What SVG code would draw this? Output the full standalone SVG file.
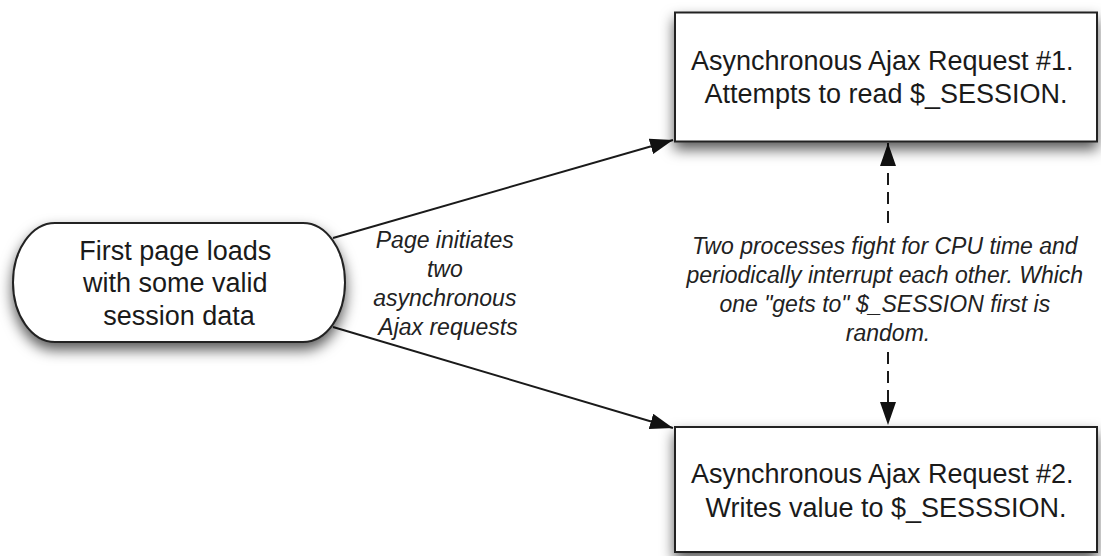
<svg xmlns="http://www.w3.org/2000/svg" width="1101" height="556" viewBox="0 0 1101 556">
  <style>
    .node { fill: #ffffff; stroke: #222222; stroke-width: 2; filter: url(#shadow); }
    .label { font-family: "Liberation Sans", Arial, sans-serif; font-size: 27px; fill: #1a1a1a; text-anchor: middle; }
    .note { font-family: "Liberation Sans", Arial, sans-serif; font-size: 23px; font-style: italic; fill: #222222; text-anchor: middle; }
    .edge { fill: none; stroke: #1a1a1a; stroke-width: 2; }
    .dashed { stroke-dasharray: 12 7; }
  </style>
  <defs>
    <filter id="shadow" x="-15%" y="-30%" width="130%" height="170%">
      <feDropShadow dx="0" dy="7" stdDeviation="7" flood-color="#000000" flood-opacity="0.65"/>
    </filter>
    <marker id="arrow" markerUnits="userSpaceOnUse" markerWidth="23" markerHeight="16" refX="23" refY="8" orient="auto">
      <path d="M0,0 L23,8 L0,16 Z" fill="#111111" stroke="none"/>
    </marker>
  </defs>

  <rect width="1101" height="556" fill="#ffffff"/>

  <!-- connectors -->
  <g id="connectors">
    <line class="edge" x1="333" y1="238" x2="673" y2="140" marker-end="url(#arrow)"/>
    <line class="edge" x1="333" y1="327" x2="673" y2="428" marker-end="url(#arrow)"/>
    <line class="edge dashed" x1="888" y1="223" x2="888" y2="143" marker-end="url(#arrow)"/>
    <line class="edge dashed" x1="888" y1="352" x2="888" y2="425" marker-end="url(#arrow)"/>
    <text class="note">
      <tspan x="448" y="248">Page initiates</tspan>
      <tspan x="448" y="277">two</tspan>
      <tspan x="448" y="306">asynchronous</tspan>
      <tspan x="448" y="335">Ajax requests</tspan>
    </text>
    <text class="note">
      <tspan x="888" y="254">Two processes fight for CPU time and</tspan>
      <tspan x="888" y="283">periodically interrupt each other. Which</tspan>
      <tspan x="888" y="312">one "gets to" $_SESSION first is</tspan>
      <tspan x="888" y="341">random.</tspan>
    </text>
  </g>

  <!-- start: page load -->
  <g id="page-load">
    <path class="node" d="M55,223 H303 A42,59.5 0 0 1 345,282.5 A42,59.5 0 0 1 303,342 H55 A42,59.5 0 0 1 13,282.5 A42,59.5 0 0 1 55,223 Z"/>
    <text class="label">
      <tspan x="179" y="260">First page loads</tspan>
      <tspan x="179" y="292">with some valid</tspan>
      <tspan x="179" y="325">session data</tspan>
    </text>
  </g>

  <!-- request 1: reader -->
  <g id="request-1">
    <rect class="node" x="675" y="12.5" width="422" height="129"/>
    <text class="label">
      <tspan x="886" y="70">Asynchronous Ajax Request #1.</tspan>
      <tspan x="886" y="103">Attempts to read $_SESSION.</tspan>
    </text>
  </g>

  <!-- request 2: writer -->
  <g id="request-2">
    <rect class="node" x="675" y="427" width="422" height="125"/>
    <text class="label">
      <tspan x="886" y="483">Asynchronous Ajax Request #2.</tspan>
      <tspan x="886" y="517">Writes value to $_SESSSION.</tspan>
    </text>
  </g>
</svg>
